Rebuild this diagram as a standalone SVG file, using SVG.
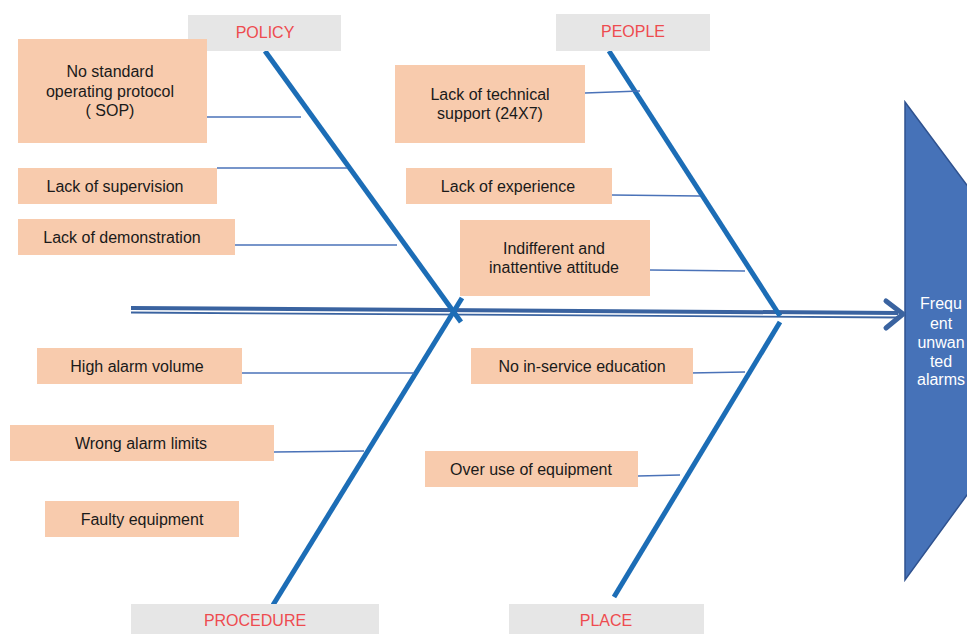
<svg xmlns="http://www.w3.org/2000/svg" width="967" height="634" viewBox="0 0 967 634">
<style>
.cause{fill:#F8CBAD}
.cat{fill:#E6E6E6}
.ct{font-family:"Liberation Sans",Arial,sans-serif;font-size:16px;fill:#1a1a1a;text-anchor:middle;dominant-baseline:central}
.catt{font-family:"Liberation Sans",Arial,sans-serif;font-size:16px;fill:#EE4B4F;text-anchor:middle;dominant-baseline:central}
.eff{font-family:"Liberation Sans",Arial,sans-serif;font-size:16px;fill:#FFFFFF;text-anchor:middle;dominant-baseline:central}
.bone{stroke:#1C6DB6;stroke-width:5;fill:none}
.br{stroke:#4A72B8;stroke-width:1.3;fill:none}
</style>
<rect width="967" height="634" fill="#FFFFFF"/>
<g id="effect">
<polygon points="905,102 975,196 975,484 905,580" fill="#4672B8" stroke="#2F528F" stroke-width="1.5"/>
<text class="eff" x="941" y="303">Frequ</text>
<text class="eff" x="941" y="323">ent</text>
<text class="eff" x="941" y="342">unwan</text>
<text class="eff" x="941" y="361">ted</text>
<text class="eff" x="941" y="379">alarms</text>
</g>
<g id="connectors">
<line x1="131" y1="308" x2="898" y2="313" stroke="#3A63A0" stroke-width="4"/>
<line x1="131" y1="312.5" x2="898" y2="317.5" stroke="#3A63A0" stroke-width="1.8"/>
<polyline points="886,301 903,314 886,328" fill="none" stroke="#3A63A0" stroke-width="5" stroke-linecap="round" stroke-linejoin="round"/>
<line class="bone" x1="265" y1="51" x2="461" y2="322"/>
<line class="bone" x1="273" y1="605" x2="462" y2="298"/>
<line class="bone" x1="609" y1="51" x2="780" y2="316"/>
<line class="bone" x1="614" y1="597" x2="780" y2="322"/>
<line class="br" x1="207" y1="117" x2="301" y2="117"/>
<line class="br" x1="217" y1="168" x2="347" y2="168"/>
<line class="br" x1="235" y1="245" x2="397" y2="245"/>
<line class="br" x1="242" y1="373" x2="414" y2="373"/>
<line class="br" x1="274" y1="452" x2="364" y2="451"/>
<line class="br" x1="585" y1="93" x2="640" y2="91"/>
<line class="br" x1="612" y1="195" x2="700" y2="196"/>
<line class="br" x1="650" y1="270" x2="745" y2="271"/>
<line class="br" x1="690" y1="373" x2="745" y2="372"/>
<line class="br" x1="638" y1="476" x2="680" y2="475"/>
</g>
<g id="cat-policy"><rect class="cat" x="188" y="15" width="153" height="36"/><text class="catt" x="265" y="32">POLICY</text></g>
<g id="cat-people"><rect class="cat" x="556" y="14" width="154" height="37"/><text class="catt" x="633" y="31">PEOPLE</text></g>
<g id="cat-procedure"><rect class="cat" x="131" y="604" width="248" height="30"/><text class="catt" x="255" y="620">PROCEDURE</text></g>
<g id="cat-place"><rect class="cat" x="509" y="604" width="195" height="30"/><text class="catt" x="606" y="620">PLACE</text></g>
<g id="c-sop"><rect class="cause" x="18" y="39" width="189" height="104"/>
<text class="ct" x="110" y="71">No standard</text><text class="ct" x="110" y="91">operating protocol</text><text class="ct" x="110" y="110">( SOP)</text></g>
<g id="c-supervision"><rect class="cause" x="18" y="168" width="199" height="36"/><text class="ct" x="115" y="186">Lack of supervision</text></g>
<g id="c-demonstration"><rect class="cause" x="18" y="219" width="217" height="36"/><text class="ct" x="122" y="237">Lack of demonstration</text></g>
<g id="c-volume"><rect class="cause" x="37" y="348" width="205" height="36"/><text class="ct" x="137" y="366">High alarm volume</text></g>
<g id="c-limits"><rect class="cause" x="10" y="425" width="264" height="36"/><text class="ct" x="141" y="443">Wrong alarm limits</text></g>
<g id="c-faulty"><rect class="cause" x="45" y="501" width="194" height="36"/><text class="ct" x="142" y="519">Faulty equipment</text></g>
<g id="c-support"><rect class="cause" x="395" y="65" width="190" height="78"/>
<text class="ct" x="490" y="94">Lack of technical</text><text class="ct" x="490" y="113">support (24X7)</text></g>
<g id="c-experience"><rect class="cause" x="406" y="168" width="206" height="36"/><text class="ct" x="508" y="186">Lack of experience</text></g>
<g id="c-attitude"><rect class="cause" x="460" y="220" width="190" height="76"/>
<text class="ct" x="554" y="248">Indifferent and</text><text class="ct" x="554" y="267">inattentive attitude</text></g>
<g id="c-inservice"><rect class="cause" x="471" y="348" width="222" height="36"/><text class="ct" x="582" y="366">No in-service education</text></g>
<g id="c-overuse"><rect class="cause" x="425" y="451" width="213" height="36"/><text class="ct" x="531" y="469">Over use of equipment</text></g>
</svg>
